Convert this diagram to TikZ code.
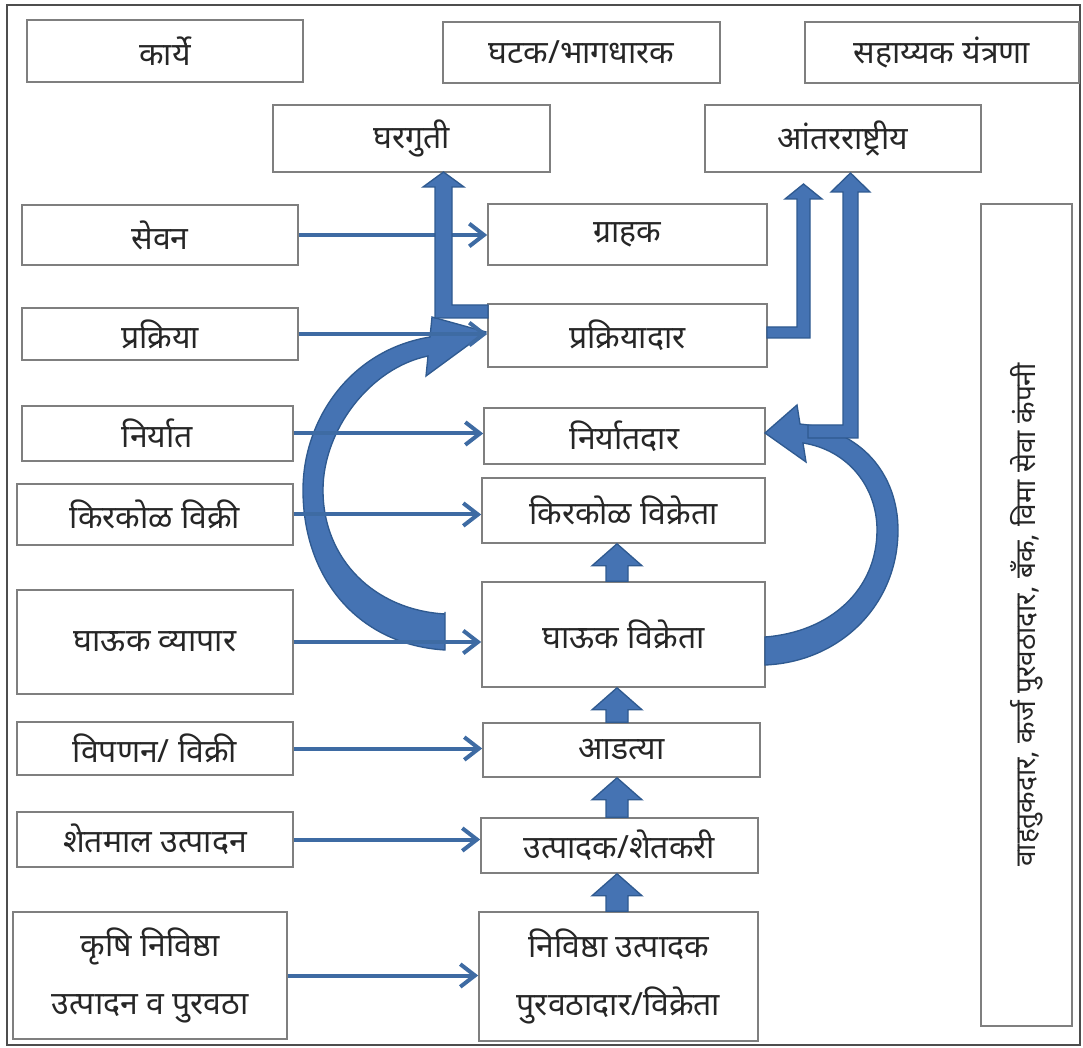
\documentclass[tikz,border=0pt]{standalone}
\usepackage{fontspec}
\setmainfont{Noto Sans}[Script=Devanagari]
\usetikzlibrary{arrows.meta,calc}
\definecolor{boxgray}{HTML}{7F7F7F}
\definecolor{framegray}{HTML}{4D4D4D}
\definecolor{arrblue}{HTML}{3E6BA3}
\definecolor{blkfill}{HTML}{4573B3}
\definecolor{blkedge}{HTML}{2F5A90}
\definecolor{txt}{HTML}{262626}
\newcommand\bx[6]{\node[box,minimum width={(#4-#2)*0.75pt},minimum height={(#5-#3)*0.75pt},#6] (#1) at ({(#2+#4)/2},{(#3+#5)/2})}
\newcommand\upblk[2]{\filldraw[blk] let \p1=(mid |- #1.north), \p2=(mid |- #2.south) in
  (\x1-8.25pt,\y1) -- (\x1-8.25pt,\y2-16.5pt) -- (\x1-18.75pt,\y2-16.5pt) -- (\x1,\y2)
  -- (\x1+18.75pt,\y2-16.5pt) -- (\x1+8.25pt,\y2-16.5pt) -- (\x1+8.25pt,\y1) -- cycle;}
\begin{document}
\begin{tikzpicture}[x=0.75pt,y=-0.75pt,
  box/.style={draw=boxgray,line width=1.2pt,fill=white,inner sep=0pt,align=center,
    text=txt,font=\fontsize{24}{28}\selectfont},
  twoline/.style={font=\fontsize{24}{43}\selectfont},
  flowarr/.style={draw=arrblue,line width=3pt,-{Straight Barb[length=11pt,width=17pt]}},
  blk/.style={fill=blkfill,draw=blkedge,line width=1pt,line join=miter}]
\useasboundingbox (0,0) rectangle (1083,1048);
\draw[framegray,line width=1.2pt] (7,5) rectangle (1080,1045);
\coordinate (mid) at (617,0);
% top row
\bx{kary}{27}{20}{303}{82}{} {कार्ये};
\bx{ghatak}{443}{22}{720}{83}{} {घटक/भागधारक};
\bx{sahay}{805}{22}{1079}{83}{} {सहाय्यक यंत्रणा};
\bx{gharguti}{273}{105}{550}{172}{} {\bfseries घरगुती};
\bx{antar}{705}{105}{981}{172}{} {आंतरराष्ट्रीय};
% left column
\bx{sevan}{22}{205}{298}{265}{} {सेवन};
\bx{prakriya}{22}{308}{298}{360}{} {प्रक्रिया};
\bx{niryat}{22}{406}{293}{461}{} {निर्यात};
\bx{kirkol}{17}{484}{293}{545}{} {किरकोळ विक्री};
\bx{ghauk}{17}{590}{293}{694}{} {घाऊक व्यापार};
\bx{vipanan}{17}{722}{293}{775}{} {विपणन/ विक्री};
\bx{shetmal}{17}{812}{293}{867}{} {शेतमाल उत्पादन};
\bx{krushi}{13}{912}{287}{1039}{twoline} {कृषि निविष्ठा\\उत्पादन व पुरवठा};
% middle column
\bx{grahak}{488}{204}{767}{265}{} {ग्राहक};
\bx{prakdar}{488}{304}{767}{367}{} {प्रक्रियादार};
\bx{niryatdar}{484}{408}{765}{464}{} {निर्यातदार};
\bx{kirkolv}{482}{478}{765}{543}{} {किरकोळ विक्रेता};
\bx{ghaukv}{482}{582}{765}{687}{} {घाऊक विक्रेता};
\bx{adtya}{483}{723}{760}{777}{} {आडत्या};
\bx{utpadak}{481}{818}{758}{873}{} {उत्पादक/शेतकरी};
\bx{nivishtha}{479}{912}{758}{1041}{twoline} {निविष्ठा उत्पादक\\पुरवठादार/विक्रेता};
% right tall box
\node[box,rotate=90,minimum width={822*0.75pt},minimum height={91*0.75pt},
  font=\fontsize{21}{24}\selectfont] (seva) at (1026.5,615)
  {वाहतुकदार, कर्ज पुरवठादार, बँक, विमा सेवा कंपनी};
% curved arrows
\filldraw[blk] (445,612) -- (445,650) .. controls (360,645) and (303,580) .. (303,490)
  .. controls (303,420) and (350,350) .. (430,337) -- (432,317) -- (486,332) -- (426,376)
  -- (428,356) .. controls (370,368) and (323,430) .. (323,490)
  .. controls (323,560) and (375,610) .. (445,614) -- cycle;
\filldraw[blk] (765,637) -- (765,665) .. controls (840,662) and (898,605) .. (898,530)
  .. controls (898,475) and (862,430) .. (800,424) -- (797,405) -- (765,433) -- (806,462)
  -- (803,443) .. controls (848,450) and (877,487) .. (877,530)
  .. controls (877,590) and (830,632) .. (765,637) -- cycle;
% thin flow arrows
\draw[flowarr] (sevan.east) -- (sevan.east -| grahak.west);
\draw[flowarr] (prakriya.east) -- (prakriya.east -| prakdar.west);
\draw[flowarr] (niryat.east) -- (niryat.east -| niryatdar.west);
\draw[flowarr] (kirkol.east) -- (kirkol.east -| kirkolv.west);
\draw[flowarr] (ghauk.east) -- (ghauk.east -| ghaukv.west);
\draw[flowarr] (vipanan.east) -- (vipanan.east -| adtya.west);
\draw[flowarr] (shetmal.east) -- (shetmal.east -| utpadak.west);
\draw[flowarr] (krushi.east) -- (krushi.east -| nivishtha.west);
% L-shaped block arrows
\filldraw[blk] (488,305) -- (452,305) -- (452,187) -- (464,187) -- (443.5,172) -- (423,187)
  -- (435,187) -- (435,318) -- (488,318) -- cycle;
\filldraw[blk] (767,327) -- (797,327) -- (797,199) -- (785,199) -- (803.5,184) -- (822,199)
  -- (810,199) -- (810,338) -- (767,338) -- cycle;
\filldraw[blk] (808,425) -- (843,425) -- (843,192) -- (831,192) -- (850.5,173) -- (870,192)
  -- (858,192) -- (858,438) -- (808,438) -- cycle;
% vertical block arrows
\upblk{nivishtha}{utpadak}
\upblk{utpadak}{adtya}
\upblk{adtya}{ghaukv}
\upblk{ghaukv}{kirkolv}
\end{tikzpicture}
\end{document}
